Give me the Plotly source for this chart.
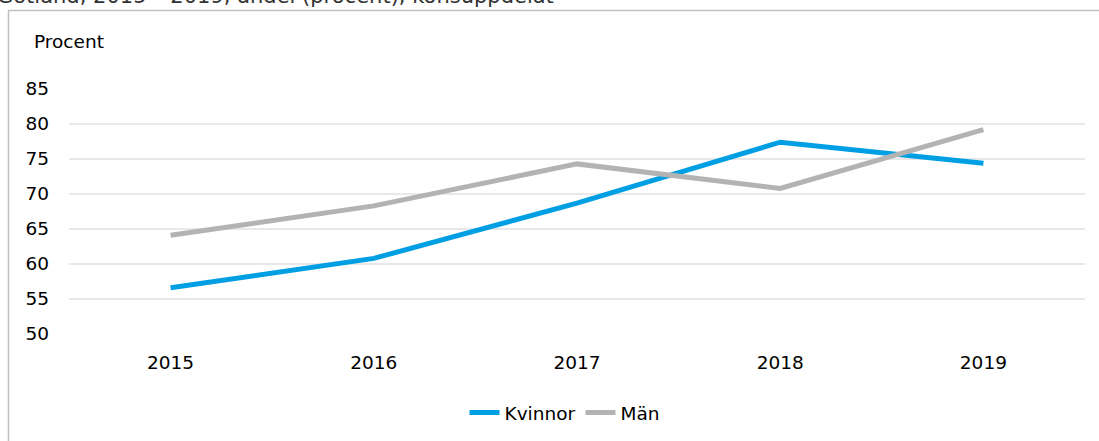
import plotly.graph_objects as go

years = ["2015", "2016", "2017", "2018", "2019"]
kvinnor = [56.6, 60.8, 68.7, 77.4, 74.4]
man = [64.1, 68.3, 74.3, 70.8, 79.2]
y_ticks = [50, 55, 60, 65, 70, 75, 80, 85]

W, H = 1099, 441
L, R, T, B = 69, 14, 89, 107
pw, ph = W - L - R, H - T - B

def px(x):
    return (x - L) / pw

def py(y):
    return (H - B - y) / ph

FONT = "DejaVu Sans"
FS = 18.5

fig = go.Figure()
fig.add_trace(go.Scatter(x=years, y=kvinnor, name="Kvinnor", mode="lines",
                         line=dict(color="#009fe3", width=5)))
fig.add_trace(go.Scatter(x=years, y=man, name="Män", mode="lines",
                         line=dict(color="#b3b3b3", width=5)))

fig.update_layout(
    width=W, height=H,
    margin=dict(l=L, r=R, t=T, b=B, pad=0, autoexpand=False),
    paper_bgcolor="white", plot_bgcolor="white",
    font=dict(family=FONT, size=FS, color="#000000"),
    showlegend=True,
    legend=dict(orientation="h", x=px(565), xanchor="center", y=py(413), yanchor="middle",
                font=dict(size=FS, color="#000000"), bgcolor="rgba(0,0,0,0)",
                itemwidth=30, tracegroupgap=0),
    xaxis=dict(type="category", range=[-0.5, 4.5], showgrid=False, zeroline=False,
               showline=False, ticks="", ticklabelstandoff=15,
               tickfont=dict(size=FS, color="#000000")),
    yaxis=dict(range=[50, 85], tickvals=y_ticks, showgrid=True, gridcolor="#e8e8e8",
               gridwidth=1.5, zeroline=False, showline=False, ticks="",
               ticklabelstandoff=19, tickfont=dict(size=FS, color="#000000")),
    annotations=[
        dict(text="Procent", xref="paper", yref="paper", x=px(32), y=py(41),
             xanchor="left", yanchor="middle", showarrow=False,
             font=dict(size=FS, color="#000000")),
        dict(text="Gotland, 2015 – 2019, andel (procent), könsuppdelat", xref="paper", yref="paper",
             x=px(-5), y=py(10), xanchor="left", yanchor="bottom", showarrow=False,
             font=dict(size=21, color="#333333")),
    ],
    shapes=[
        dict(type="line", xref="paper", yref="paper", x0=px(8), x1=px(1110),
             y0=py(10.5), y1=py(10.5), line=dict(color="#c0c0c0", width=1.5)),
        dict(type="line", xref="paper", yref="paper", x0=px(8.5), x1=px(8.5),
             y0=py(10.5), y1=py(450), line=dict(color="#c0c0c0", width=1.5)),
    ],
)

fig.write_html("out.html", config={"displayModeBar": False},
               post_script="document.body.style.margin='0';")
